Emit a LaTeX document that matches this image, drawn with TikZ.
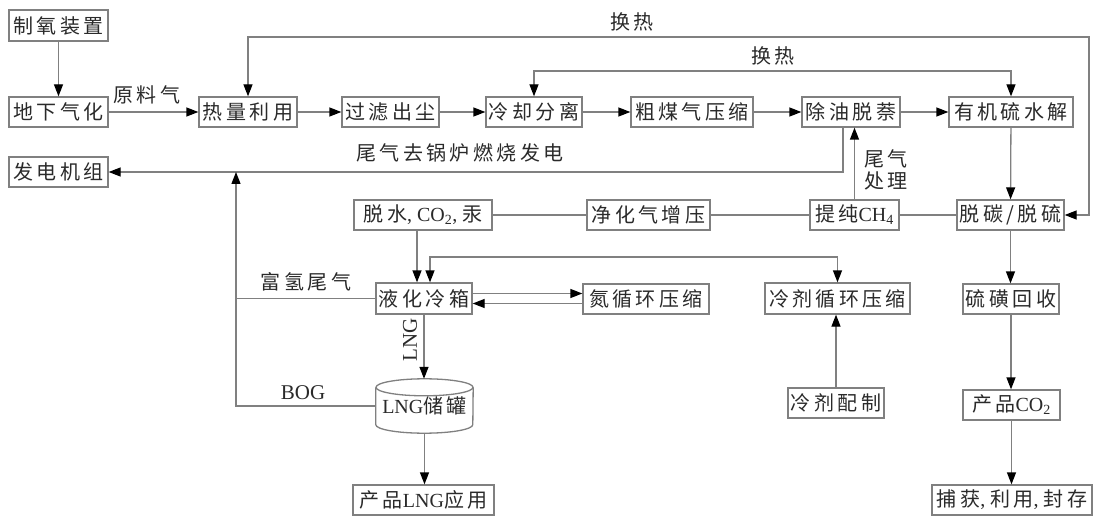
\documentclass[tikz,border=0pt]{standalone}
\usepackage{fontspec}
\setmainfont{Liberation Serif}
\newfontfamily\cjk[LetterSpace=17]{Noto Sans CJK SC}
\usetikzlibrary{arrows.meta}
\definecolor{ln}{HTML}{808080}
\definecolor{tx}{HTML}{2A2A2A}
\newcommand\la[1]{{\rmfamily #1}}
\tikzset{
  fnt/.style={font=\fontsize{20}{22}\selectfont\cjk},
  box/.style={draw=ln, line width=1.3pt, inner sep=0pt, text=tx, fnt},
  lbl/.style={inner sep=0pt, text=tx, fnt},
  conn/.style={draw=ln, line width=1.3pt},
  tip/.tip={Triangle[length=12pt,width=9pt,color=black]},
  arr/.style={conn, -tip},
  dbl/.style={conn, tip-tip},
}
\newcommand\mkbox[6]{\node[box,minimum width=#3pt-#2pt,minimum height=#5pt-#4pt] (#1) at ({(#2+#3)/2},{(#4+#5)/2}) {#6};}
\begin{document}
\begin{tikzpicture}[x=1pt,y=-1pt]
\useasboundingbox[fill=white] (0,0) rectangle (1096,516);
% boxes
\mkbox{zy}{9}{108}{10}{41}{制氧装置}
\mkbox{dx}{9}{108}{97}{127}{地下气化}
\mkbox{rl}{199}{297}{97}{127}{热量利用}
\mkbox{gl}{342}{439}{97}{127}{过滤出尘}
\mkbox{lq}{486}{582}{97}{127}{冷却分离}
\mkbox{cm}{631}{753}{97}{127}{粗煤气压缩}
\mkbox{cy}{802}{900}{97}{127}{除油脱萘}
\mkbox{yj}{949}{1073}{97}{127}{有机硫水解}
\mkbox{fd}{9}{108}{157}{187}{发电机组}
\mkbox{ts}{354}{492}{200}{230}{脱水\la{, CO\textsubscript{2}, }汞}
\mkbox{jh}{587}{710}{200}{230}{净化气增压}
\mkbox{tc}{810}{899}{200}{230}{提纯\la{CH\textsubscript{4}}}
\mkbox{tt}{957}{1064}{200}{230}{脱碳/脱硫}
\mkbox{yh}{376}{472}{283}{314}{液化冷箱}
\mkbox{dn}{583}{709}{284}{314}{氮循环压缩}
\mkbox{lj}{765}{910}{283}{314}{冷剂循环压缩}
\mkbox{lh}{963}{1059}{284}{314}{硫磺回收}
\mkbox{lp}{788}{884}{388}{418}{冷剂配制}
\mkbox{co}{963}{1060}{390}{420}{产品\la{CO\textsubscript{2}}}
\mkbox{lng}{353}{494}{485}{515}{产品\la{LNG}应用}
\mkbox{bh}{932}{1092}{485}{515}{捕获\la{, }利用\la{, }封存}
% tank
\node[lbl, minimum width=97pt, minimum height=54pt] (tank) at (424.5,406) {\raisebox{-6pt}{\la{LNG}储罐}};
\draw[conn] ([yshift=-8.5pt]tank.north) ellipse [x radius=48.5pt, y radius=8.5pt];
\draw[conn] ([yshift=-8.5pt]tank.north west) -- ([yshift=8.5pt]tank.south west)
  arc[start angle=180, end angle=360, x radius=48.5pt, y radius=8.5pt]
  -- ([yshift=-8.5pt]tank.north east);
% labels
\node[lbl] (l1) at (147,95) {原料气};
\node[lbl] (l2) at (632,22) {换热};
\node[lbl] (l3) at (773,56) {换热};
\node[lbl] (l4) at (460,153) {尾气去锅炉燃烧发电};
\node[lbl, align=center] (l5) at (886,170) {尾气\\处理};
\node[lbl] (l6) at (306,282) {富氢尾气};
\node[lbl, rotate=90] (l7) at (410,340) {\la{\fontsize{21}{22}\selectfont LNG}};
\node[lbl] (l8) at (303,393) {\la{\fontsize{21}{22}\selectfont BOG}};
% coordinates
\coordinate (c1) at (1089,37);
\coordinate (c2) at (800,71);
\coordinate (c3) at (600,257);
\coordinate (j1) at (236,172);
% connectors
\draw[arr] (zy) -- (dx);
\draw[arr] (dx) -- (rl);
\draw[arr] (rl) -- (gl);
\draw[arr] (gl) -- (lq);
\draw[arr] (lq) -- (cm);
\draw[arr] (cm) -- (cy);
\draw[arr] (cy) -- (yj);
\draw[dbl] (rl.north) |- (c1) |- (tt.east);
\draw[dbl] (lq.north) |- (c2) -| (yj.north);
\draw[arr] ([xshift=-8pt]cy.south) |- (fd.east);
\draw[arr] (tc.north) -- (tc.north |- cy.south);
\draw[arr] (yj) -- (tt);
\draw[conn] (tt) -- (tc);
\draw[conn] (tc) -- (jh);
\draw[conn] (jh) -- (ts);
\draw[arr] ([xshift=-6pt]ts.south) -- ([xshift=-6pt]ts.south |- yh.north);
\draw[dbl] ([xshift=6pt]yh.north) |- (c3) -| (lj.north);
\draw[arr] ([yshift=5pt]yh.east) -- ([yshift=5pt]yh.east -| dn.west);
\draw[arr] ([yshift=-5pt]yh.east -| dn.west) -- ([yshift=-5pt]yh.east);
\draw[arr] (yh.south) -- (yh.south |- tank.north);
\draw[arr] (tank.south) -- (tank.south |- lng.north);
\draw[arr] (tank.west) -| (j1);
\draw[conn] (yh.west) -- (yh.west -| j1);
\draw[arr] (lp.north) -- (lp.north |- lj.south);
\draw[arr] (tt.south) -- (tt.south |- lh.north);
\draw[arr] (lh.south) -- (lh.south |- co.north);
\draw[arr] (co.south) -- (co.south |- bh.north);
\end{tikzpicture}
\end{document}
